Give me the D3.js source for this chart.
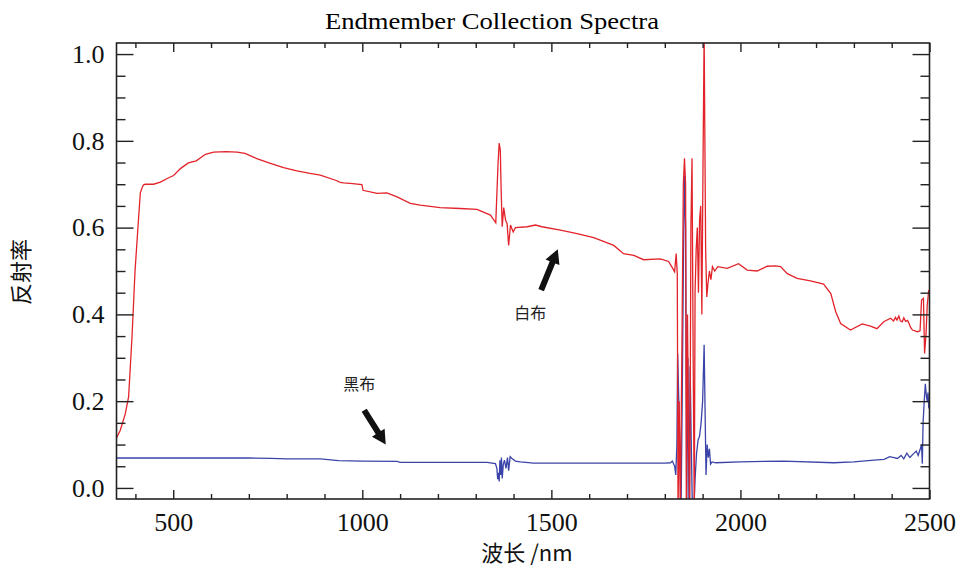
<!DOCTYPE html>
<html><head><meta charset="utf-8">
<script src="https://cdn.jsdelivr.net/npm/d3@7/dist/d3.min.js"></script>
<style>body{margin:0;background:#fff}svg{display:block}</style>
</head><body>
<svg id="chart" width="962" height="569"></svg>
<script>
// ---------------- data ----------------
const titleText = "Endmember Collection Spectra";
const xLabel = "波长 /nm";
const yLabel = "反射率";
const xMajorTicks = [500, 1000, 1500, 2000, 2500];
const xMinorTicks = [400,600,700,800,900,1100,1200,1300,1400,1600,1700,1800,1900,2100,2200,2300,2400];
const yMajorTicks = [0.0, 0.2, 0.4, 0.6, 0.8, 1.0];
const yMinorTicks = [0.05,0.1,0.15,0.25,0.3,0.35,0.45,0.5,0.55,0.65,0.7,0.75,0.85,0.9,0.95];

const whiteWl = [350,360,373,382,391,399,408,413,417,421,426,444,448,466,488,501,519,540,561,585,607,640,669,690,721,757,792,827,862,889,933,937,942,950,968,999,1002,1039,1065,1092,1127,1153,1206,1259,1303,1339,1353,1359,1362,1365,1367,1370,1374,1379,1383,1387,1392,1399,1405,1436,1458,1475,1524,1568,1612,1665,1691,1718,1744,1788,1810,1819,1826,1830,1833,
1835,1838,1841,1845,1849,1852,1855,1857,1860,1863,1866,1869,1872,1875,1878,1880,1883,1886,1889,1892,1895,1898,1901,1904,1906,1908,1911,1914,1918,1922,1926,1932,
1940,1965,1995,2018,2044,2071,2093,2106,2124,2150,2185,2220,2239,2252,2265,2291,2322,2344,2361,2379,2397,2405,2410,2414,2419,2423,2428,2432,2437,2442,2446,2450,2455,2462,2468,2475,2479,2484,2487,2491,2494,2498,2500];
const whiteVal = [0.115,0.133,0.17,0.21,0.348,0.50,0.617,0.68,0.69,0.698,0.70,0.70,0.70,0.705,0.715,0.72,0.736,0.749,0.754,0.769,0.774,0.775,0.774,0.771,0.759,0.748,0.738,0.731,0.725,0.721,0.708,0.706,0.704,0.703,0.702,0.699,0.686,0.679,0.680,0.671,0.656,0.652,0.646,0.644,0.642,0.629,0.611,0.748,0.795,0.778,0.694,0.602,0.646,0.617,0.609,0.559,0.606,0.59,0.60,0.602,0.606,0.602,0.594,0.586,0.577,0.559,0.540,0.536,0.526,0.528,0.522,0.509,0.498,0.540,0.494,
-0.06,0.20,-0.06,0.30,0.70,0.76,0.70,-0.06,0.40,0.10,-0.06,0.60,0.76,0.30,-0.06,0.45,0.55,0.60,0.45,0.62,0.65,0.40,0.74,1.05,0.80,0.55,0.44,0.47,0.50,0.48,0.51,0.50,
0.51,0.506,0.517,0.502,0.50,0.511,0.512,0.51,0.494,0.483,0.477,0.470,0.448,0.406,0.379,0.364,0.378,0.373,0.367,0.383,0.391,0.385,0.393,0.387,0.396,0.385,0.383,0.392,0.384,0.386,0.379,0.370,0.364,0.362,0.360,0.362,0.433,0.437,0.31,0.357,0.421,0.456,0.45];

const blackWl = [350,500,700,760,800,889,937,1000,1092,1100,1330,1352,1356,1358,1360,1362,1364,1366,1368,1370,1373,1376,1380,1384,1387,1391,1396,1405,1418,1453,1524,1600,1700,1800,1815,1820,1826,1829,1832,1834,1837,1840,1843,1846,1849,1852,1855,1858,1861,1864,1867,1870,1873,1877,1880,1884,1888,1892,1896,1900,1904,1907,1909,1912,1915,1918,1921,1925,1935,2000,2114,2247,2300,2353,2380,2395,2406,2415,2425,2432,2440,2448,2458,2465,2470,2476,2479,2481,2483,2486,2489,2492,2494,2496,2498,2500];
const blackVal = [0.069,0.069,0.069,0.068,0.067,0.067,0.063,0.062,0.061,0.059,0.059,0.056,0.045,0.020,0.035,0.015,0.064,0.030,0.070,0.022,0.055,0.064,0.045,0.070,0.040,0.072,0.068,0.062,0.060,0.057,0.057,0.057,0.057,0.057,0.058,0.062,0.05,0.03,0.10,0.31,0.20,0.09,-0.05,0.20,0.50,0.72,0.60,-0.05,0.30,-0.05,0.28,0.10,-0.05,-0.05,0.02,0.08,0.11,0.12,0.15,0.20,0.33,0.15,0.03,0.10,0.07,0.09,0.055,0.06,0.058,0.060,0.062,0.058,0.060,0.064,0.066,0.072,0.070,0.068,0.075,0.067,0.080,0.070,0.079,0.085,0.075,0.091,0.100,0.056,0.149,0.20,0.24,0.21,0.20,0.22,0.187,0.19];

// annotations in data coordinates: label position, arrow tail, arrow tip
const annLabels = ["白布", "黑布"];
const annLabelWl = [1444, 992];
const annLabelVal = [0.403, 0.239];
const annTailWl = [1473, 1005];
const annTailVal = [0.456, 0.179];
const annTipWl = [1517, 1062];
const annTipVal = [0.550, 0.100];

// ---------------- layout ----------------
const svg = d3.select("#chart");
const L = 116.5, R = 929.5, T = 43, B = 499;
const x = d3.scaleLinear().domain([350, 2500]).range([L, R]);
const y = d3.scaleLinear().domain([-0.0255, 1.0255]).range([B, T]);
const serif = "'Liberation Serif','Times New Roman',serif";
const cjk = "'Noto Sans CJK SC','Noto Sans CJK JP',sans-serif";
const redC = "#e2242a", blueC = "#3a44a8";

// clip
svg.append("defs").append("clipPath").attr("id","clip")
  .append("rect").attr("x",L).attr("y",T).attr("width",R-L).attr("height",B-T);

// title
svg.append("text").attr("x", 492).attr("y", 29).attr("text-anchor","middle")
  .attr("font-family", serif).attr("font-size", 23)
  .attr("textLength", 334).attr("lengthAdjust","spacingAndGlyphs")
  .text(titleText);

// lines
const line = d3.line().x(d => x(d[0])).y(d => y(d[1]));
const g = svg.append("g").attr("clip-path","url(#clip)");
g.append("path").datum(blackWl.map((w,i)=>[w, blackVal[i]]))
  .attr("d", line).attr("fill","none").attr("stroke", blueC).attr("stroke-width",1.3);
g.append("path").datum(whiteWl.map((w,i)=>[w, whiteVal[i]]))
  .attr("d", line).attr("fill","none").attr("stroke", redC).attr("stroke-width",1.3);

// axes (ticks inward)
function styleAxis(sel){
  sel.select(".domain").remove();
  sel.selectAll(".tick line").attr("stroke","#222").attr("stroke-width",1.4);
  sel.selectAll("text").attr("font-family", serif).attr("font-size", 26).attr("fill","#111");
}
const xMajLen = 9, xMinLen = 5, yMajLen = 17, yMinLen = 9;
svg.append("g").attr("transform",`translate(0,${B})`)
  .call(d3.axisBottom(x).tickValues(xMinorTicks).tickSize(-xMinLen).tickFormat(""))
  .call(styleAxis);
svg.append("g").attr("transform",`translate(0,${B})`)
  .call(d3.axisBottom(x).tickValues(xMajorTicks).tickSize(-xMajLen).tickPadding(14).tickFormat(d3.format("d")))
  .call(styleAxis);
svg.append("g").attr("transform",`translate(0,${T})`)
  .call(d3.axisTop(x).tickValues(xMinorTicks).tickSize(-xMinLen).tickFormat(""))
  .call(styleAxis);
svg.append("g").attr("transform",`translate(0,${T})`)
  .call(d3.axisTop(x).tickValues(xMajorTicks).tickSize(-xMajLen).tickFormat(""))
  .call(styleAxis);
svg.append("g").attr("transform",`translate(${L},0)`)
  .call(d3.axisLeft(y).tickValues(yMinorTicks).tickSize(-yMinLen).tickFormat(""))
  .call(styleAxis);
svg.append("g").attr("transform",`translate(${L},0)`)
  .call(d3.axisLeft(y).tickValues(yMajorTicks).tickSize(-yMajLen).tickPadding(12).tickFormat(d3.format(".1f")))
  .call(styleAxis);
svg.append("g").attr("transform",`translate(${R},0)`)
  .call(d3.axisRight(y).tickValues(yMinorTicks).tickSize(-yMinLen).tickFormat(""))
  .call(styleAxis);
svg.append("g").attr("transform",`translate(${R},0)`)
  .call(d3.axisRight(y).tickValues(yMajorTicks).tickSize(-yMajLen).tickFormat(""))
  .call(styleAxis);

// frame
svg.append("rect").attr("x",L).attr("y",T).attr("width",R-L).attr("height",B-T)
  .attr("fill","none").attr("stroke","#222").attr("stroke-width",1.6);

// axis titles
svg.append("text").attr("x", 527).attr("y", 561).attr("text-anchor","middle")
  .attr("font-family", cjk).attr("font-size", 22).attr("fill","#111").text(xLabel);
svg.append("text").attr("transform","translate(29,272) rotate(-90)").attr("text-anchor","middle")
  .attr("font-family", cjk).attr("font-size", 22).attr("fill","#111").text(yLabel);

// annotations
annLabels.forEach((t,i)=>{
  svg.append("text").attr("x", x(annLabelWl[i])).attr("y", y(annLabelVal[i]) + 6)
    .attr("text-anchor","middle").attr("font-family", cjk).attr("font-size", 16).attr("fill","#222").text(t);
  const x0 = x(annTailWl[i]), y0 = y(annTailVal[i]), x1 = x(annTipWl[i]), y1 = y(annTipVal[i]);
  const dx = x1-x0, dy = y1-y0, len = Math.hypot(dx,dy), ux = dx/len, uy = dy/len, px = -uy, py = ux;
  const hw = 3, hl = 14, hh = 7.5;
  const bx = x1 - ux*hl, by = y1 - uy*hl;
  const pts = [[x0+px*hw,y0+py*hw],[bx+px*hw,by+py*hw],[bx+px*hh,by+py*hh],[x1,y1],[bx-px*hh,by-py*hh],[bx-px*hw,by-py*hw],[x0-px*hw,y0-py*hw]];
  svg.append("path").attr("d", "M" + pts.map(p=>p.join(",")).join("L") + "Z").attr("fill","#111");
});
</script>
</body></html>
